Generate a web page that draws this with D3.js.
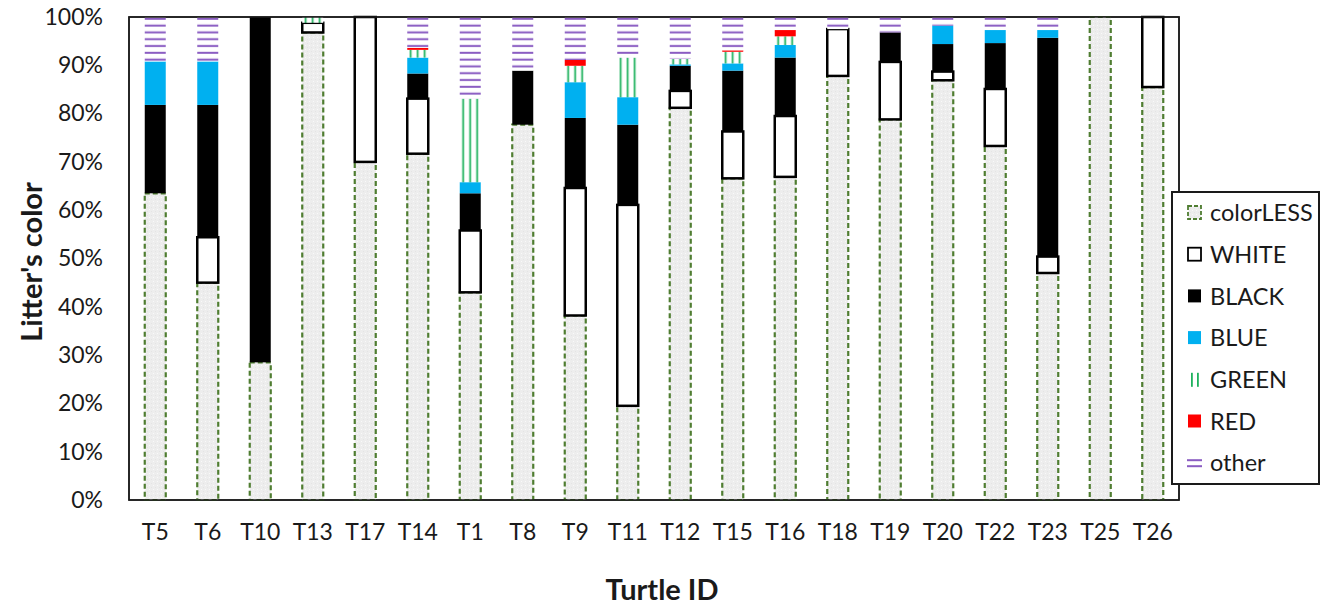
<!DOCTYPE html>
<html>
<head>
<meta charset="utf-8">
<script src="https://cdn.jsdelivr.net/npm/d3@7"></script>
<style>
  html, body { margin: 0; padding: 0; background: #fff; }
  svg { display: block; font-family: Lato, "Open Sans", sans-serif; }
</style>
</head>
<body>
<svg id="chart" width="1330" height="605"></svg>
<script>
// ---- data ----
const categories = ["T5","T6","T10","T13","T17","T14","T1","T8","T9","T11","T12","T15","T16","T18","T19","T20","T22","T23","T25","T26"];
const colorless = [63.5,45,28.5,96.8,70,71.7,43,77.7,38.2,19.5,81.2,66.6,66.9,87.8,78.8,86.9,73.3,47,100,85.5];
const white     = [0,9.4,0,2,30,11.4,12.8,0,26.4,41.6,3.5,9.7,12.6,9.7,11.9,1.8,11.8,3.4,0,14.5];
const black     = [18.3,27.4,71.5,0,0,5.2,7.7,11.2,14.5,16.6,5.2,12.6,12.1,0,6.1,5.7,9.5,45.3,0,0];
const blue      = [9,9,0,0,0,3.3,2.3,0,7.4,5.7,0.3,1.5,2.6,0,0,3.8,2.7,1.6,0,0];
const green     = [0,0,0,1.2,0,1.6,17.3,0,3.4,8.2,1.1,2.4,1.8,0,0,0,0,0,0,0];
const red       = [0,0,0,0,0,0.4,0,0,1.2,0,0,0.3,1.3,0,0,0,0,0,0,0];
const other     = [9.2,9.2,0,0,0,6.4,16.9,11.1,8.9,8.4,8.7,6.9,2.7,2.5,3.2,1.8,2.7,2.7,0,0];
const seriesNames = ["colorLESS","WHITE","BLACK","BLUE","GREEN","RED","other"];
const yTicks = [0,10,20,30,40,50,60,70,80,90,100];

// ---- layout ----
const svg = d3.select("#chart");
const L = 129, R = 1179, T = 17, B = 500;

const rows = categories.map((c, i) => ({
  cat: c, colorLESS: colorless[i], WHITE: white[i], BLACK: black[i],
  BLUE: blue[i], GREEN: green[i], RED: red[i], other: other[i]
}));
const stacked = d3.stack().keys(seriesNames)(rows);

const x = d3.scaleBand().domain(categories).range([L, R]).paddingInner(0.6).paddingOuter(0.3);
const y = d3.scaleLinear().domain([0, 100]).range([B, T]);

// ---- patterns ----
const defs = svg.append("defs");
const pc = defs.append("pattern").attr("id", "pColorless").attr("patternUnits", "userSpaceOnUse")
  .attr("width", 4).attr("height", 4);
pc.append("rect").attr("width", 4).attr("height", 4).attr("fill", "#ededed");
pc.append("rect").attr("x", 1).attr("y", 1).attr("width", 1).attr("height", 1).attr("fill", "#f9f9f9");
pc.append("rect").attr("x", 3).attr("y", 3).attr("width", 1).attr("height", 1).attr("fill", "#e4e4e4");

const pg = defs.append("pattern").attr("id", "pGreen")
  .attr("patternUnits", "objectBoundingBox").attr("patternContentUnits", "objectBoundingBox")
  .attr("width", 1/3).attr("height", 1);
pg.append("rect").attr("width", 1/3).attr("height", 1).attr("fill", "#fff");
pg.append("rect").attr("x", 0.12).attr("width", 0.085).attr("height", 1).attr("fill", "#1fb25e");

const po = defs.append("pattern").attr("id", "pOther").attr("patternUnits", "userSpaceOnUse")
  .attr("width", 8).attr("height", 6.8).attr("y", T);
po.append("rect").attr("width", 8).attr("height", 6.8).attr("fill", "#fff");
po.append("rect").attr("y", 0.8).attr("width", 8).attr("height", 2).attr("fill", "#8a5cc2");

const styles = {
  colorLESS: { fill: "url(#pColorless)", stroke: "#4f7d31", sw: 2.2, dash: "5,3" },
  WHITE:     { fill: "#ffffff", stroke: "#000", sw: 2.5, dash: null },
  BLACK:     { fill: "#000000", stroke: "none", sw: 0, dash: null },
  BLUE:      { fill: "#00b0f0", stroke: "none", sw: 0, dash: null },
  GREEN:     { fill: "url(#pGreen)", stroke: "none", sw: 0, dash: null },
  RED:       { fill: "#ff0000", stroke: "none", sw: 0, dash: null },
  other:     { fill: "url(#pOther)", stroke: "none", sw: 0, dash: null }
};

// ---- plot frame ----
svg.append("rect").attr("x", L).attr("y", T).attr("width", R - L).attr("height", B - T)
  .attr("fill", "#fff").attr("stroke", "#1a1a1a").attr("stroke-width", 1.5);

// ---- bars ----
stacked.forEach(s => {
  const st = styles[s.key];
  svg.append("g").selectAll("rect")
    .data(s.filter(d => d[1] - d[0] > 0))
    .join("rect")
    .attr("x", d => x(d.data.cat))
    .attr("width", x.bandwidth())
    .attr("y", d => y(d[1]))
    .attr("height", d => y(d[0]) - y(d[1]))
    .attr("fill", st.fill)
    .attr("stroke", st.stroke)
    .attr("stroke-width", st.sw)
    .attr("stroke-dasharray", st.dash);
});

// ---- axes ----
const yAxis = d3.axisLeft(y).tickValues(yTicks).tickFormat(d => d + "%").tickSize(0).tickPadding(26);
const gy = svg.append("g").attr("transform", `translate(${L},0)`).call(yAxis);
gy.select(".domain").remove();
gy.selectAll("text").attr("font-size", 23).attr("fill", "#1a1a1a").attr("font-family", "Lato, sans-serif");

const xAxis = d3.axisBottom(x).tickSize(0).tickPadding(24);
const gx = svg.append("g").attr("transform", `translate(0,${B})`).call(xAxis);
gx.select(".domain").remove();
gx.selectAll("text").attr("font-size", 23).attr("fill", "#1a1a1a").attr("font-family", "Lato, sans-serif");

// frame on top
svg.append("rect").attr("x", L).attr("y", T).attr("width", R - L).attr("height", B - T)
  .attr("fill", "none").attr("stroke", "#1a1a1a").attr("stroke-width", 1.5);

// ---- titles ----
svg.append("text").attr("x", (L + R) / 2 + 8).attr("y", 600).attr("text-anchor", "middle")
  .attr("font-size", 29).attr("font-weight", "bold").attr("fill", "#1a1a1a").text("Turtle ID");
svg.append("text").attr("transform", "translate(42,262) rotate(-90)").attr("text-anchor", "middle")
  .attr("font-size", 29).attr("font-weight", "bold").attr("fill", "#1a1a1a").text("Litter's color");

// ---- legend ----
const lg = svg.append("g");
lg.append("rect").attr("x", 1172).attr("y", 192).attr("width", 147).attr("height", 292)
  .attr("fill", "#fff").attr("stroke", "#1a1a1a").attr("stroke-width", 2);
seriesNames.forEach((name, i) => {
  const cy = 213 + i * 41.7;
  const g = lg.append("g").attr("transform", `translate(1187,${cy})`);
  const st = styles[name];
  if (name === "GREEN") {
    [4, 10].forEach(xx => g.append("rect").attr("x", xx).attr("y", -7).attr("width", 1.8).attr("height", 14).attr("fill", "#1fb25e"));
  } else if (name === "other") {
    [-4, 2].forEach(yy => g.append("rect").attr("x", 0).attr("y", yy).attr("width", 15).attr("height", 2).attr("fill", "#8a5cc2"));
  } else {
    g.append("rect").attr("x", 1).attr("y", -7).attr("width", 13).attr("height", 13)
      .attr("fill", st.fill).attr("stroke", name === "WHITE" ? "#000" : (name === "colorLESS" ? "#4f7d31" : "none"))
      .attr("stroke-width", 1.8)
      .attr("stroke-dasharray", name === "colorLESS" ? "4,2" : null);
  }
  g.append("text").attr("x", 23).attr("y", 0).attr("dy", "0.35em")
    .attr("font-size", 23.5).attr("fill", "#1a1a1a").text(name);
});
</script>
</body>
</html>
